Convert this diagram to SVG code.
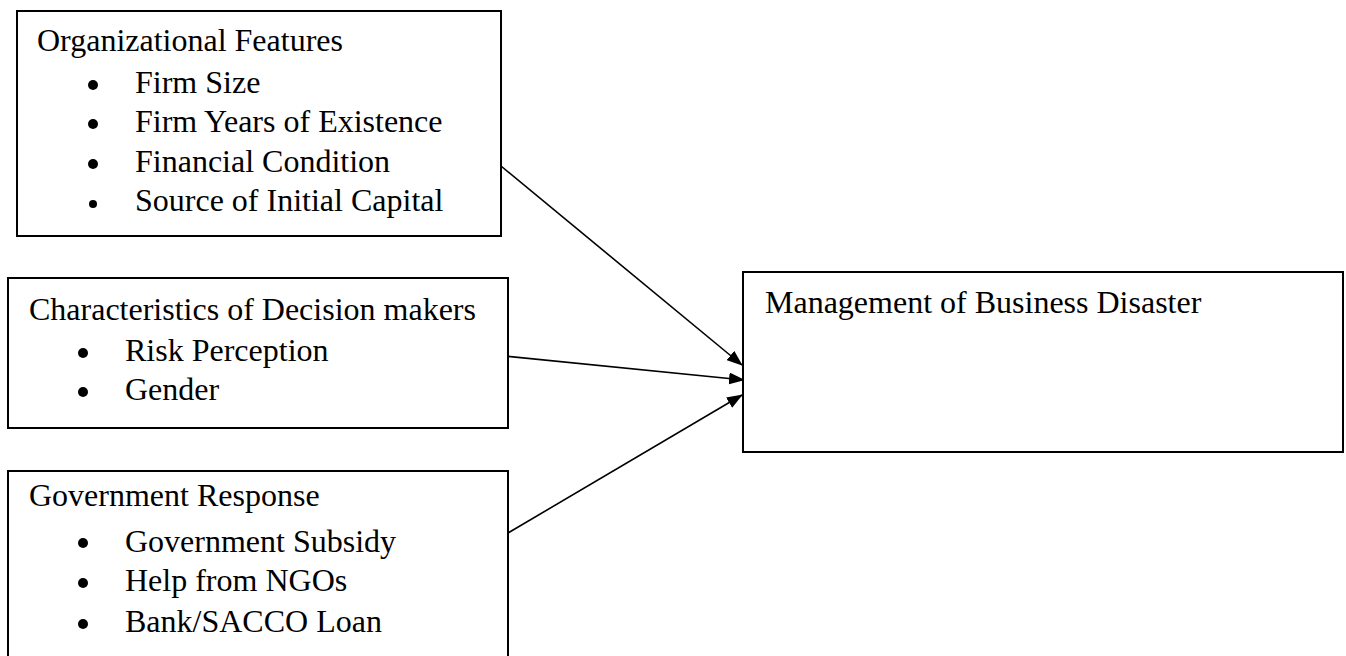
<svg xmlns="http://www.w3.org/2000/svg" width="1346" height="656" viewBox="0 0 1346 656">
<style>
.box{fill:#fff;stroke:#000;stroke-width:2}
.t{font-family:"Liberation Serif","Times New Roman",serif;font-size:32px;fill:#000}
.c{stroke:#000;stroke-width:1.6;fill:none}
</style>
<defs>
<marker id="ah" markerWidth="16" markerHeight="12" refX="15" refY="6" orient="auto" markerUnits="userSpaceOnUse">
<path d="M0,0 L16,6 L0,12 Z" fill="#000"/>
</marker>
</defs>
<rect width="1346" height="656" fill="#fff"/>
<g id="connectors">
<line class="c" x1="501" y1="166" x2="742" y2="365" marker-end="url(#ah)"/>
<line class="c" x1="504" y1="356" x2="744" y2="380" marker-end="url(#ah)"/>
<line class="c" x1="508" y1="533" x2="742" y2="395" marker-end="url(#ah)"/>
</g>
<g id="org">
<rect class="box" x="17" y="11" width="484" height="225"/>
<text class="t" x="37" y="51">Organizational Features</text>
<circle cx="93" cy="85" r="5"/><text class="t" x="135" y="93">Firm Size</text>
<circle cx="93" cy="124" r="5"/><text class="t" x="135" y="132">Firm Years of Existence</text>
<circle cx="93" cy="164" r="5"/><text class="t" x="135" y="172">Financial Condition</text>
<circle cx="93" cy="204" r="4"/><text class="t" x="135" y="211">Source of Initial Capital</text>
</g>
<g id="dec">
<rect class="box" x="8" y="278" width="500" height="150"/>
<text class="t" x="29" y="320">Characteristics of Decision makers</text>
<circle cx="83" cy="353" r="5"/><text class="t" x="125" y="361">Risk Perception</text>
<circle cx="83" cy="392" r="5"/><text class="t" x="125" y="400">Gender</text>
</g>
<g id="gov">
<rect class="box" x="8" y="471" width="500" height="200"/>
<text class="t" x="29" y="506">Government Response</text>
<circle cx="83" cy="543" r="5"/><text class="t" x="125" y="552">Government Subsidy</text>
<circle cx="83" cy="583" r="5"/><text class="t" x="125" y="591">Help from NGOs</text>
<circle cx="83" cy="624" r="5"/><text class="t" x="125" y="632">Bank/SACCO Loan</text>
</g>
<g id="mgmt">
<rect class="box" x="743" y="272" width="600" height="180"/>
<text class="t" x="765" y="313">Management of Business Disaster</text>
</g>
</svg>
